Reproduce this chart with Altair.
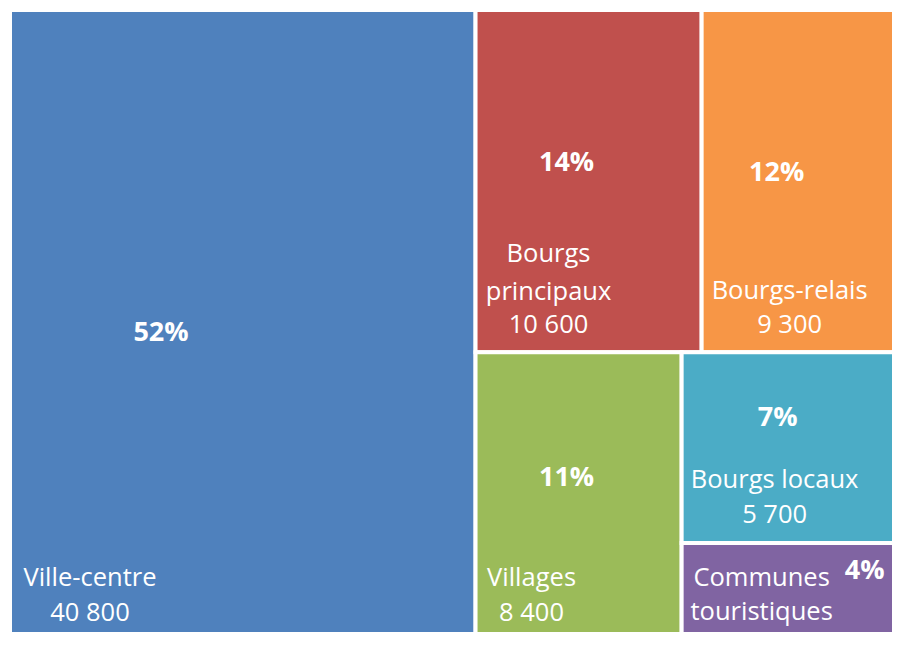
import altair as alt
import pandas as pd

# ---- data ----
names = ["Ville-centre", "Bourgs principaux", "Bourgs-relais", "Villages",
         "Bourgs locaux", "Communes touristiques"]
name_lines = [["Ville-centre"], ["Bourgs", "principaux"], ["Bourgs-relais"],
              ["Villages"], ["Bourgs locaux"], ["Communes", "touristiques"]]
values = [40800, 10600, 9300, 8400, 5700, 3200]
colors = ["#4F81BD", "#C0504D", "#F79646", "#9BBB59", "#4BACC6", "#8064A2"]
show_value = [True, True, True, True, True, False]  # last value is cropped in the reference

# virtual treemap extent (the view crops its right and bottom edges, as in the reference)
LW, LH = 890, 640
W, H = 882, 622
total = sum(values)

# ---- treemap layout computed from the values ----
bw = LW * values[0] / total
rest = total - values[0]
top_h = LH * (values[1] + values[2]) / rest
rw = LW - bw
red_w = rw * values[1] / (values[1] + values[2])
bot = values[3] + values[4] + values[5]
gw = rw * values[3] / bot
teal_h = (LH - top_h) * values[4] / (values[4] + values[5])
rects = [
    (0, bw, 0, LH),
    (bw, bw + red_w, 0, top_h),
    (bw + red_w, LW, 0, top_h),
    (bw, bw + gw, top_h, LH),
    (bw + gw, LW, top_h, top_h + teal_h),
    (bw + gw, LW, top_h + teal_h, LH),
]

rect_df = pd.DataFrame({
    "name": names,
    "value": values,
    "x0": [r[0] for r in rects],
    "x1": [r[1] for r in rects],
    "y0": [r[2] for r in rects],
    "y1": [r[3] for r in rects],
})

# ---- label placement (offsets from each cell's top-left corner) ----
pct_off = [(151, 323), (91, 153), (75, 163), (91, 126), (96, 66), (183, 28)]
name_off = [(80, [568, 603]), (73, [244, 282, 315]), (88, [281, 315]),
            (56, [226, 261]), (93, [128, 163]), (80, [35, 69])]

rows = []
for i, v in enumerate(values):
    x0, x1, y0, y1 = rects[i]
    pct = f"{round(v / total * 100)}%"
    rows.append({"text": pct, "x": x0 + pct_off[i][0], "y": y0 + pct_off[i][1], "kind": "pct"})
    lines = list(name_lines[i])
    if show_value[i]:
        lines.append(f"{v:,}".replace(",", " "))
    cx, ys = name_off[i]
    for line, yy in zip(lines, ys):
        rows.append({"text": line, "x": x0 + cx, "y": y0 + yy, "kind": "name"})
text_df = pd.DataFrame(rows)

xs = alt.Scale(domain=[0, W], nice=False, zero=False)
ys_ = alt.Scale(domain=[0, H], nice=False, zero=False, reverse=True)

cells = alt.Chart(rect_df).mark_rect(stroke="white", strokeWidth=4, clip=True).encode(
    x=alt.X("x0:Q", scale=xs, axis=None),
    x2="x1:Q",
    y=alt.Y("y0:Q", scale=ys_, axis=None),
    y2="y1:Q",
    color=alt.Color("name:N", scale=alt.Scale(domain=names, range=colors), legend=None),
)

pct_text = alt.Chart(text_df[text_df.kind == "pct"]).mark_text(
    font="Open Sans", fontSize=27, fontWeight="bold", color="white",
    align="center", baseline="middle",
).encode(x=alt.X("x:Q", scale=xs), y=alt.Y("y:Q", scale=ys_), text="text:N")

name_text = alt.Chart(text_df[text_df.kind == "name"]).mark_text(
    font="Open Sans", fontSize=25.5, color="white",
    align="center", baseline="middle",
).encode(x=alt.X("x:Q", scale=xs), y=alt.Y("y:Q", scale=ys_), text="text:N")

chart = alt.layer(cells, pct_text, name_text).properties(
    width=W, height=H,
    padding={"left": 2, "top": 2, "right": 0, "bottom": 0},
    background="white",
).configure_view(stroke=None)

chart.save("out.html", embed_options={"renderer": "svg", "actions": False})
